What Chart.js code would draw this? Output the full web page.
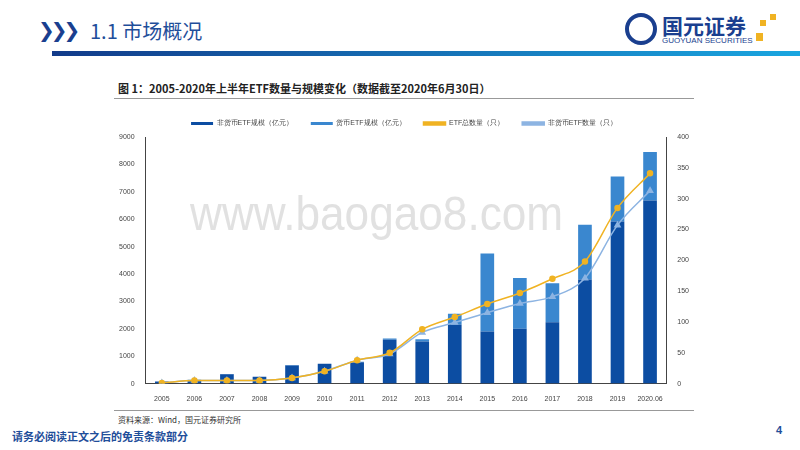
<!DOCTYPE html>
<html><head><meta charset="utf-8">
<script src="https://cdn.jsdelivr.net/npm/chart.js@4"></script>
<style>
body{margin:0;width:800px;height:450px;background:#fff;position:relative;overflow:hidden;font-family:"Noto Sans CJK SC",sans-serif}
.abs{position:absolute}
#wm{left:190px;top:186px;font:48px "Liberation Sans Narrow","Liberation Sans",sans-serif;color:rgba(170,170,170,0.35);z-index:5;white-space:nowrap;transform:scaleX(0.92);transform-origin:left}
</style></head><body>
<div class="abs" style="left:38px;top:18px;font:bold 20px 'DejaVu Sans';color:#1a3f8f;letter-spacing:-4px">❯❯❯</div>
<div class="abs" style="left:90px;top:16px;font:20px 'Noto Sans CJK SC';color:#1f4e9a">1.1 市场概况</div>
<div class="abs" style="left:625px;top:13px;width:32px;height:32px;border-radius:50%;border:4px solid #1a3f8f;box-sizing:border-box"></div>
<div class="abs" style="left:662px;top:10px;font:bold 21px 'Noto Sans CJK SC';color:#1a3f8f">国元证券</div>
<div class="abs" style="left:662px;top:36px;font:8px 'Liberation Sans';color:#1a3f8f">GUOYUAN SECURITIES</div>
<div class="abs" style="left:760px;top:20px;width:6px;height:6px;background:#f0b323"></div>
<div class="abs" style="left:770px;top:14px;width:6px;height:6px;background:#f0b323"></div>
<div class="abs" style="left:756px;top:33px;width:7px;height:8px;background:#f0b323"></div>
<div class="abs" style="left:52px;top:51px;width:748px;height:5px;background:linear-gradient(90deg,#123b8a,#1aa6e0)"></div>
<div class="abs" style="left:118px;top:80px;font:bold 11px 'Noto Sans CJK SC';color:#222">图 1：2005-2020年上半年ETF数量与规模变化（数据截至2020年6月30日）</div>
<div class="abs" style="left:114px;top:98px;width:580px;height:1px;background:#999"></div>
<div class="abs" style="left:114px;top:410px;width:580px;height:1px;background:#999"></div>
<div class="abs" style="left:118px;top:414px;font:8px 'Noto Sans CJK SC';color:#333">资料来源：Wind，国元证券研究所</div>
<div class="abs" style="left:12px;top:428px;font:bold 11px 'Noto Sans CJK SC';color:#1f4e9a">请务必阅读正文之后的免责条款部分</div>
<div class="abs" style="left:776px;top:424px;font:bold 11px 'Liberation Sans';color:#1f4e9a">4</div>
<div id="wm" class="abs">www.baogao8.com</div>
<div class="abs" style="left:100px;top:102px;width:600px;height:304px"><canvas id="c"></canvas></div>
<script>
const years = ["2005","2006","2007","2008","2009","2010","2011","2012","2013","2014","2015","2016","2017","2018","2019","2020.06"];
const nonMoneyScale = [80,130,340,250,660,720,780,1600,1536,2150,1900,2003,2242,3802,5918,6680];
const moneyScale = [0,6,10,0,20,7,15,48,80,400,2845,1855,1423,1991,1639,1776];
const totalCount = [1,5,5,5,9,20,38,50,88,108,129,147,170,198,285,341];
const nonMoneyCount = [1,5,5,5,9,20,38,48,83,99,115,130,141,171,257,313];

const tick = { color: "#444", font: { size: 7 }, callback: (v) => v };
new Chart(document.getElementById("c"), {
  data: {
    labels: years,
    datasets: [
      { type: "bar", label: "非货币ETF规模（亿元）", data: nonMoneyScale, backgroundColor: "#0c4da2", stack: "s", yAxisID: "y", barPercentage: 0.42, categoryPercentage: 1, order: 1 },
      { type: "bar", label: "货币ETF规模（亿元）", data: moneyScale, backgroundColor: "#3a87cf", stack: "s", yAxisID: "y", barPercentage: 0.42, categoryPercentage: 1, order: 1 },
      { type: "line", label: "ETF总数量（只）", data: totalCount, yAxisID: "y1", borderColor: "#f0b323", backgroundColor: "#f0b323", borderWidth: 1.5, pointRadius: 2.5, cubicInterpolationMode: "monotone", order: 0 },
      { type: "line", label: "非货币ETF数量（只）", data: nonMoneyCount, yAxisID: "y1", borderColor: "#8db4e2", backgroundColor: "#8db4e2", borderWidth: 1.5, pointStyle: "triangle", pointRadius: 3, cubicInterpolationMode: "monotone", order: 0 },
    ],
  },
  options: {
    animation: false,
    maintainAspectRatio: false,
    layout: { padding: { left: 16, right: 8 } },
    plugins: {
      legend: {
        labels: { boxWidth: 22, boxHeight: 3, font: { size: 7 }, color: "#444", padding: 18, sort: (a, b) => a.datasetIndex - b.datasetIndex },
      },
      tooltip: { enabled: false },
    },
    scales: {
      x: { stacked: true, grid: { display: false }, ticks: { color: "#444", font: { size: 7 } }, border: { color: "#444" } },
      y: { stacked: true, min: 0, max: 9000, ticks: { ...tick, stepSize: 1000 }, grid: { display: false }, border: { color: "#444" } },
      y1: { position: "right", min: 0, max: 400, ticks: { ...tick, stepSize: 50 }, grid: { display: false }, border: { color: "#444" } },
    },
  },
});
</script>
</body></html>
